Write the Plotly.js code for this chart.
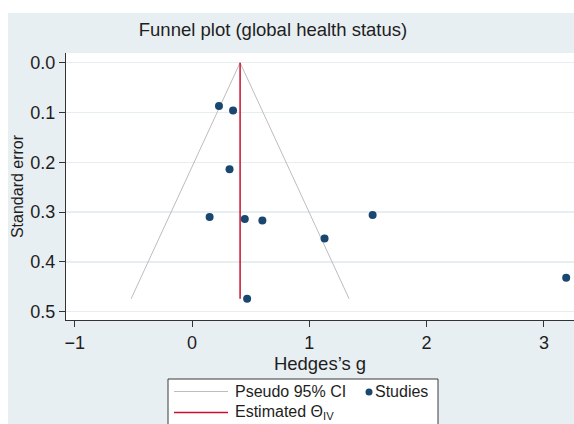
<!DOCTYPE html>
<html>
<head>
<meta charset="utf-8">
<script src="https://cdn.plot.ly/plotly-3.0.1.min.js"></script>
<style>
  html, body { margin: 0; padding: 0; background: #ffffff; }
  #chart { width: 574px; height: 424px; }
</style>
</head>
<body>
<div id="chart"></div>
<script>
// Study effect sizes (Hedges's g) and their standard errors
const hedgesG = [0.23, 0.35, 0.32, 0.15, 0.45, 0.60, 0.47, 1.13, 1.54, 3.19];
const stdErr  = [0.087, 0.096, 0.214, 0.310, 0.314, 0.317, 0.474, 0.353, 0.306, 0.432];

// Pooled inverse-variance estimate
const thetaIV = 0.41;

// Axis ticks
const xTicks = [-1, 0, 1, 2, 3];
const yTicks = [0.0, 0.1, 0.2, 0.3, 0.4, 0.5];

// Legend labels
const legendLabels = ["Pseudo 95% CI", "Studies", "Estimated \u0398<sub>IV</sub>"];

const W = 574, H = 424;
const M = { l: 66, r: 0, t: 53, b: 104 };
const PW = W - M.l - M.r, PH = H - M.t - M.b;
// pixel -> paper coordinate helpers for decorations outside the plot area
const px = v => (v - M.l) / PW;
const py = v => (H - M.b - v) / PH;

const FONT = "Liberation Sans, Arial, Helvetica, sans-serif";
const INK = "#1e1e1e";
const BAND = "#e8eff2";
const NAVY = "#1a476f";
const RED = "#c8102e";
const GREY = "#bdbdbd";

// Pseudo 95% confidence limits around the pooled estimate
const seMax = Math.max(...stdErr);
const z = 1.96;
const funnelX = [thetaIV - z * seMax, thetaIV, thetaIV + z * seMax];
const funnelY = [seMax, 0, seMax];

const traces = [
  {
    type: "scatter", mode: "lines",
    x: funnelX, y: funnelY,
    line: { color: GREY, width: 1 },
    name: legendLabels[0], showlegend: false, hoverinfo: "skip"
  },
  {
    type: "scatter", mode: "lines",
    x: [thetaIV, thetaIV], y: [0, seMax],
    line: { color: RED, width: 1.5 },
    name: legendLabels[2], showlegend: false, hoverinfo: "skip"
  },
  {
    type: "scatter", mode: "markers",
    x: hedgesG, y: stdErr,
    marker: { color: NAVY, size: 8 },
    name: legendLabels[1], showlegend: false
  }
];

// Legend box geometry (pixels)
const LB = { x0: 168, x1: 438, y0: 379, y1: 440 };
const row1 = 391.5, row2 = 412;

const shapes = [
  // white margin strips around the tinted graph region
  { type: "rect", xref: "paper", yref: "paper", x0: px(0), x1: px(W), y0: py(0), y1: py(13),
    fillcolor: "#ffffff", line: { width: 0 }, layer: "below" },
  { type: "rect", xref: "paper", yref: "paper", x0: px(0), x1: px(8), y0: py(0), y1: py(H),
    fillcolor: "#ffffff", line: { width: 0 }, layer: "below" },
  // legend frame
  { type: "rect", xref: "paper", yref: "paper", x0: px(LB.x0), x1: px(LB.x1), y0: py(LB.y0), y1: py(LB.y1),
    fillcolor: "#ffffff", line: { color: "#3a3a3a", width: 1 }, layer: "above" },
  // legend samples
  { type: "line", xref: "paper", yref: "paper", x0: px(174), x1: px(228), y0: py(row1), y1: py(row1),
    line: { color: GREY, width: 1.2 }, layer: "above" },
  { type: "line", xref: "paper", yref: "paper", x0: px(174), x1: px(228), y0: py(row2 + 0.5), y1: py(row2 + 0.5),
    line: { color: RED, width: 1.5 }, layer: "above" },
  { type: "circle", xref: "paper", yref: "paper", xsizemode: "pixel", ysizemode: "pixel",
    xanchor: px(369), yanchor: py(row1 + 0.5), x0: -3.5, x1: 3.5, y0: -3.5, y1: 3.5,
    fillcolor: NAVY, line: { width: 0 }, layer: "above" }
];

const LFONT = { family: FONT, size: 16, color: INK };
const annotations = [
  { text: legendLabels[0], xref: "paper", yref: "paper", x: px(233), y: py(row1),
    xanchor: "left", yanchor: "middle", showarrow: false, font: LFONT },
  { text: legendLabels[1], xref: "paper", yref: "paper", x: px(373), y: py(row1),
    xanchor: "left", yanchor: "middle", showarrow: false, font: LFONT },
  { text: legendLabels[2], xref: "paper", yref: "paper", x: px(233), y: py(row2),
    xanchor: "left", yanchor: "middle", showarrow: false, font: LFONT }
];

const layout = {
  width: W, height: H,
  margin: M,
  paper_bgcolor: BAND,
  plot_bgcolor: "#ffffff",
  font: { family: FONT, size: 18, color: INK },
  showlegend: false,
  title: {
    text: "Funnel plot (global health status)",
    xref: "container", yref: "container",
    x: 273 / W, y: 1 - 29.5 / H, xanchor: "center", yanchor: "middle",
    font: { family: FONT, size: 18.5, color: INK }
  },
  xaxis: {
    range: [(M.l - 192) / 117.3, (W - 192) / 117.3],
    tickvals: xTicks,
    ticks: "outside", ticklen: 6, tickcolor: "#333", tickwidth: 1,
    showline: true, linecolor: "#333", linewidth: 1,
    showgrid: false, zeroline: false,
    tickfont: { family: FONT, size: 18, color: INK },
    title: { text: "Hedges\u2019s g\u00a0\u00a0", standoff: 4, font: { family: FONT, size: 18.5, color: INK } }
  },
  yaxis: {
    range: [(H - M.b - 62.7) / 498, (M.t - 62.7) / 498],
    tickvals: yTicks, tickformat: ".1f",
    ticks: "outside", ticklen: 6, tickcolor: "#333", tickwidth: 1,
    showline: true, linecolor: "#333", linewidth: 1,
    showgrid: true, gridcolor: "#e6eef1", gridwidth: 1.5,
    zeroline: false,
    tickfont: { family: FONT, size: 18, color: INK },
    title: { text: "Standard error", standoff: 2, font: { family: FONT, size: 16, color: INK } }
  },
  shapes: shapes,
  annotations: annotations
};

Plotly.newPlot("chart", traces, layout, { displayModeBar: false, staticPlot: true });
</script>
</body>
</html>
